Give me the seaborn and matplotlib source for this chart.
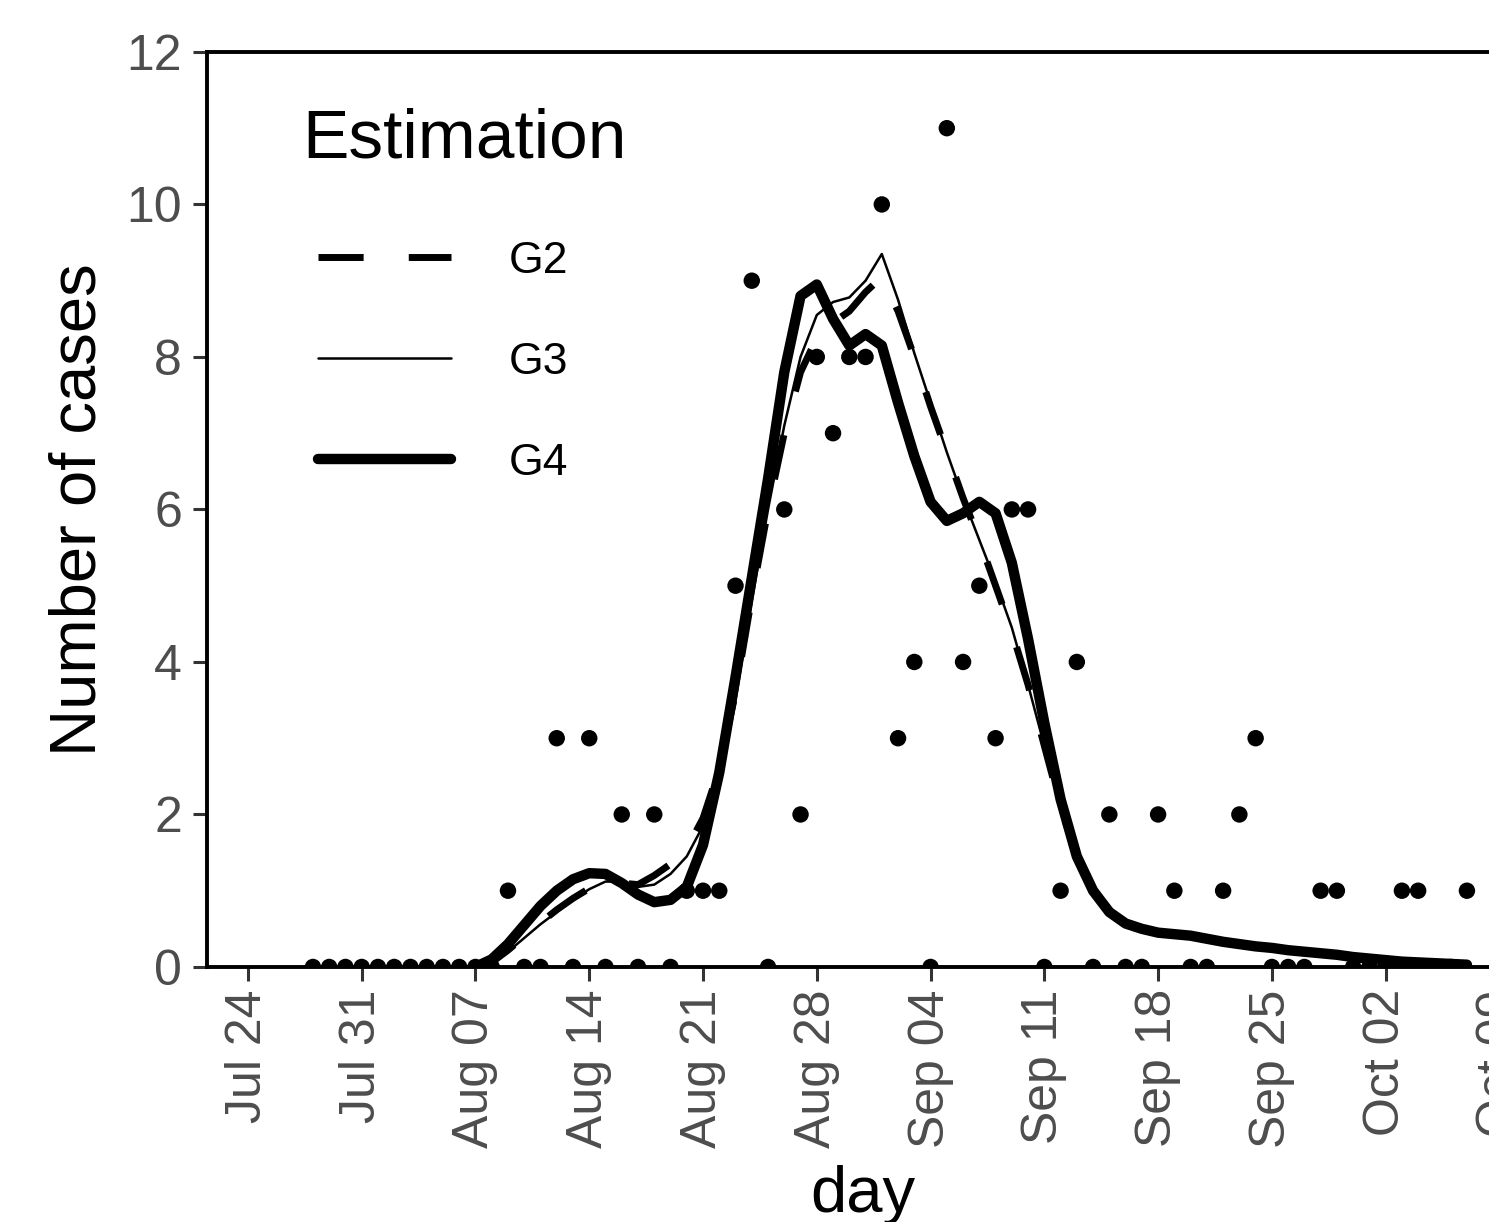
import pandas as pd
import matplotlib
matplotlib.use('Agg')
from matplotlib import pyplot as plt
import matplotlib.dates as mdates
import seaborn as sns

sns.set_theme(style='white')
plt.rcParams['font.family'] = ['Liberation Sans', 'DejaVu Sans']
plt.rcParams['text.color'] = 'black'

# observed daily cases, one value per day from obs_start
obs_start = '2020-07-28'
obs_cases = [0, 0, 0, 0, 0, 0, 0, 0, 0, 0, 0, 0,
             1, 0, 0, 3, 0, 3, 0,
             2, 0, 2, 0, 1, 1, 1,
             5, 9, 0, 6, 2, 8, 7,
             8, 8, 10, 3, 4, 0, 11,
             4, 5, 3, 6, 6, 0, 1,
             4, 0, 2, 0, 0, 2, 1,
             0, 0, 1, 2, 3, 0, 0,
             0, 1, 1, 0, 0, 0, 1,
             1, 0, 0, 1]

# estimated curves, one value per day from est_start
est_start = '2020-08-07'
g2 = [0.0, 0.06, 0.22, 0.4, 0.58, 0.75, 0.9,
      1.03, 1.12, 1.1, 1.08, 1.2, 1.35, 1.55,
      1.95, 2.6, 3.6, 4.85, 6.0, 7.0, 7.8,
      8.25, 8.45, 8.6, 8.85, 9.05, 8.6, 8.0,
      7.35, 6.75, 6.15, 5.6, 5.0, 4.4, 3.7,
      2.9, 2.1, 1.45, 1.0, 0.72, 0.56, 0.48,
      0.44, 0.42, 0.4, 0.36, 0.33, 0.3, 0.27,
      0.24, 0.22, 0.2, 0.18, 0.15, 0.13, 0.11,
      0.09, 0.07, 0.06, 0.05, 0.04, 0.03]
g3 = [0.0, 0.05, 0.2, 0.38, 0.56, 0.72, 0.88,
      1.02, 1.12, 1.12, 1.05, 1.08, 1.22, 1.45,
      1.85, 2.5, 3.5, 4.8, 6.0, 7.1, 8.0,
      8.55, 8.72, 8.78, 9.0, 9.35, 8.75, 8.05,
      7.4, 6.75, 6.15, 5.6, 5.05, 4.45, 3.7,
      2.9, 2.1, 1.45, 1.0, 0.72, 0.56, 0.48,
      0.44, 0.42, 0.4, 0.36, 0.32, 0.29, 0.26,
      0.24, 0.21, 0.19, 0.17, 0.15, 0.12, 0.1,
      0.08, 0.07, 0.05, 0.04, 0.03, 0.03]
g4 = [0.0, 0.1, 0.3, 0.55, 0.8, 1.0, 1.15,
      1.23, 1.22, 1.1, 0.95, 0.85, 0.88, 1.05,
      1.6, 2.55, 3.8, 5.1, 6.4, 7.8, 8.8,
      8.95, 8.5, 8.15, 8.3, 8.15, 7.4, 6.7,
      6.1, 5.85, 5.95, 6.1, 5.95, 5.3, 4.3,
      3.2, 2.2, 1.45, 1.0, 0.72, 0.57, 0.5,
      0.45, 0.43, 0.41, 0.37, 0.33, 0.3, 0.27,
      0.25, 0.22, 0.2, 0.18, 0.16, 0.13, 0.11,
      0.09, 0.07, 0.06, 0.05, 0.04, 0.03]

obs = pd.DataFrame({'day': pd.date_range(obs_start, periods=len(obs_cases), freq='D'),
                    'cases': obs_cases})
est_days = pd.date_range(est_start, periods=len(g4), freq='D')

fig = plt.figure(figsize=(14.89, 12.22), dpi=100)
ax = fig.add_axes([0.139, 0.2087, 0.8811, 0.7488])

# points sit under the spines so the zero counts are mostly hidden by the axis line
sns.scatterplot(data=obs, x='day', y='cases', ax=ax, color='black', s=140,
                edgecolor='none', zorder=2.2)
sns.lineplot(x=est_days, y=g2, ax=ax, color='black', linewidth=5, linestyle=(0, (6.5, 6.5)), label='G2')
sns.lineplot(x=est_days, y=g3, ax=ax, color='black', linewidth=1.8, label='G3')
sns.lineplot(x=est_days, y=g4, ax=ax, color='black', linewidth=7.5, label='G4')

x0 = pd.Timestamp('2020-07-24')
ax.set_xlim(x0 - pd.Timedelta(days=2.52), x0 + pd.Timedelta(days=78.2))
ax.set_ylim(0, 12)
ax.set_yticks([0, 2, 4, 6, 8, 10, 12])
ax.set_xticks(pd.date_range('2020-07-24', '2020-10-09', freq='7D'))
ax.xaxis.set_major_formatter(mdates.DateFormatter('%b %d'))
plt.setp(ax.get_xticklabels(), rotation=90)

for sp in ax.spines.values():
    sp.set_color('black')
    sp.set_linewidth(2.8)
    sp.set_zorder(2.5)
ax.tick_params(axis='both', which='major', direction='out', length=10, width=2.2,
               color='#333333', labelcolor='#4D4D4D', labelsize=36, left=True, bottom=True)
ax.tick_params(axis='x', pad=6)
ax.tick_params(axis='y', pad=8)

ax.set_xlabel('day', fontsize=47, labelpad=12, color='black')
ax.set_ylabel('Number of cases', fontsize=47, labelpad=13, color='black')

handles, labels = ax.get_legend_handles_labels()
leg = ax.legend(handles, labels, title='Estimation', frameon=False, fontsize=32,
                title_fontsize=50, handlelength=3.0, handletextpad=1.3,
                labelspacing=1.35, loc='upper left', alignment='left', borderpad=0,
                labelcolor='black',
                bbox_to_anchor=(280 / 1489, 1 - 85 / 1222), bbox_transform=fig.transFigure)
leg.get_title().set_color('black')
# keys sit a little right of the title, as in ggplot legends
leg._legend_handle_box.pad = 11
leg._legend_box.sep = 39

fig.savefig('out.png', dpi=100)
